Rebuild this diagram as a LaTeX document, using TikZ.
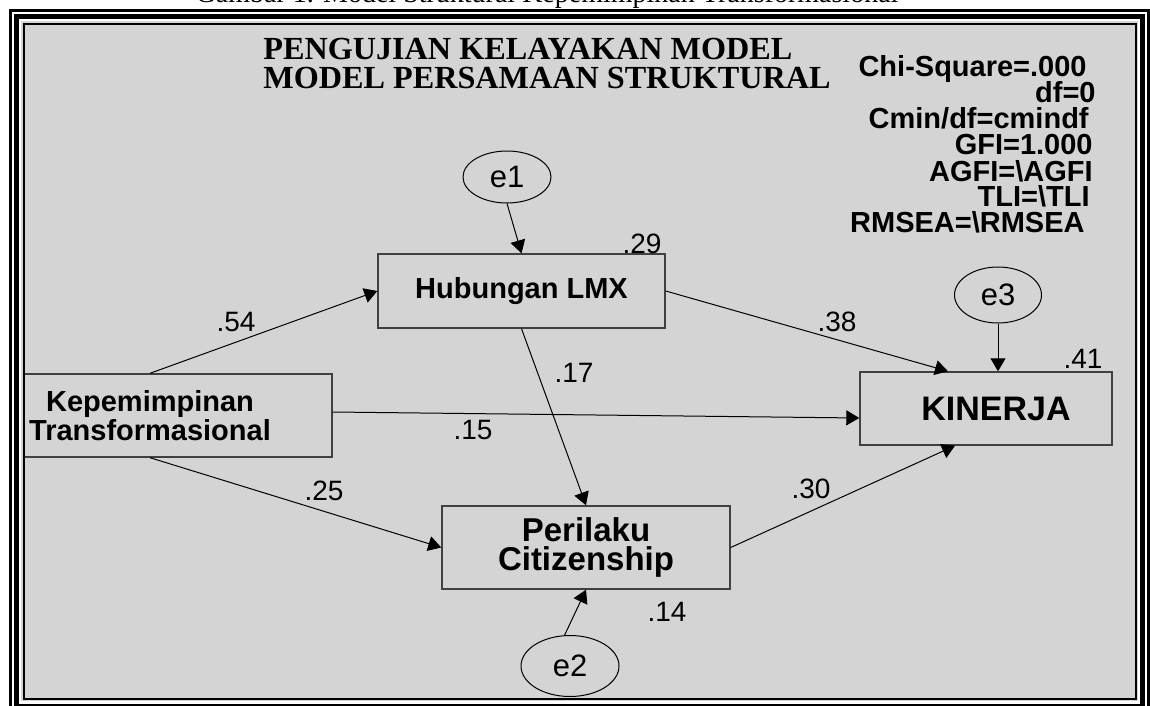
\documentclass[tikz,border=0pt]{standalone}
\usepackage{fontspec}
\setmainfont{Liberation Serif}
\newfontfamily\amosfont{Liberation Sans}
\usetikzlibrary{arrows.meta,positioning,shapes.geometric}
\definecolor{panelgray}{HTML}{D4D4D4}
\definecolor{boxline}{HTML}{404040}

\begin{document}
\begin{tikzpicture}[
  x=0.5pt, y=-0.5pt,
  var/.style={rectangle, draw=boxline, line width=0.7pt, fill=panelgray, inner sep=0pt, align=center, font=\amosfont\bfseries\fontsize{14.5}{13.5}\selectfont},
  err/.style={ellipse, draw=black, line width=0.5pt, fill=panelgray, inner sep=0pt, font=\amosfont\fontsize{15.5}{15.5}\selectfont},
  coef/.style={inner sep=0pt, font=\amosfont\fontsize{14}{14}\selectfont},
  fitline/.style={inner sep=0pt, anchor=base east, font=\amosfont\bfseries\fontsize{14.5}{13}\selectfont},
  arrow/.style={-{Triangle[length=6.5pt,width=7.5pt]}, line width=0.5pt, black}
]
\fill[white] (0,0) rectangle (1150,706);
\useasboundingbox (0,0) rectangle (1150,706);
\draw[line width=1.5pt] (10.5,10.5) rectangle (1148,712.5);
\draw[line width=2.5pt] (16.5,16.5) rectangle (1142.5,706.5);
\fill[panelgray] (21,21) rectangle (1138,701);
\draw[line width=1pt] (24,24) rectangle (1136,699);
\node[anchor=base, inner sep=0pt, font=\fontsize{14}{14}\selectfont] (caption) at (547,3) {Gambar 1. Model Struktural Kepemimpinan Transformasional};

\begin{scope}
\clip (25,25) rectangle (1135,698);
\node[anchor=north west, inner sep=0pt, align=left, font=\bfseries\fontsize{16.1}{14.5}\selectfont] (title) at (263,38) {PENGUJIAN KELAYAKAN MODEL\\MODEL PERSAMAAN STRUKTURAL};
\node[fitline] (chisq) at (1087,76) {Chi-Square=.000};
\node[fitline] (df) at (1096,103) {df=0};
\node[fitline] (cmin) at (1089,128) {Cmin/df=cmindf};
\node[fitline] (gfi) at (1093,155) {GFI=1.000};
\node[fitline] (agfi) at (1093,181) {AGFI=\textbackslash AGFI};
\node[fitline] (tli) at (1090,206) {TLI=\textbackslash TLI};
\node[fitline] (rmsea) at (1085,232) {RMSEA=\textbackslash RMSEA};

\node[var, minimum width=182pt, minimum height=41.5pt] (kep) at (150,415.5) {Kepemimpinan\\Transformasional};
\node[var, minimum width=143.5pt, minimum height=37pt] (lmx) at (521.5,291) {Hubungan LMX};
\node[var, minimum width=144pt, minimum height=41.5pt, font=\amosfont\bfseries\fontsize{16.5}{14.5}\selectfont] (pcb) at (586,547.5) {Perilaku\\Citizenship};
\node[var, minimum width=126pt, minimum height=36.5pt, font=\amosfont\bfseries\fontsize{17}{17}\selectfont] (kin) at (986,408.5) {\hspace*{10pt}KINERJA};
\node[err, minimum width=44pt, minimum height=26pt] (e1) at (507,177) {e1};
\node[err, minimum width=43.5pt, minimum height=28pt] (e3) at (998,295) {e3};
\node[err, minimum width=49pt, minimum height=30.5pt] (e2) at (570,666) {e2};

\draw[arrow] (e1.south) -- (lmx.north);
\draw[arrow] (e3.south) -- (e3.south |- kin.north);
\draw[arrow] (e2.100) -- (pcb.south);
\draw[arrow] (kep.north) -- (lmx.west);
\draw[arrow] ([yshift=1.75pt]kep.east) -- ([yshift=-4.75pt]kin.west);
\draw[arrow] (kep.south) -- (pcb.west);
\draw[arrow] (lmx.east) -- ([xshift=-19pt]kin.north);
\draw[arrow] (lmx.south) -- (pcb.north);
\draw[arrow] (pcb.east) -- ([xshift=-15.5pt]kin.south);

\node[coef] (c54) at (236,322) {.54};
\node[coef] (c29) at (642,244) {.29};
\node[coef] (c38) at (837,322) {.38};
\node[coef] (c17) at (574,373) {.17};
\node[coef] (c15) at (473,430) {.15};
\node[coef] (c25) at (324,491) {.25};
\node[coef] (c30) at (811,489) {.30};
\node[coef] (c41) at (1083,359) {.41};
\node[coef] (c14) at (667,612) {.14};
\end{scope}
\end{tikzpicture}
\end{document}
